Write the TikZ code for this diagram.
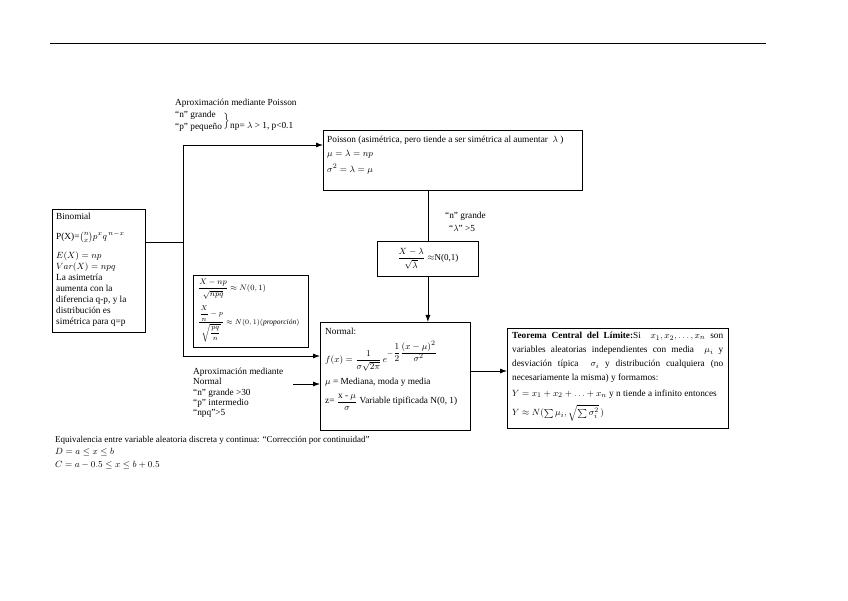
\documentclass[tikz,border=0pt]{standalone}
\usepackage{fontspec}
\setmainfont{Liberation Serif}
\usepackage{amsmath}
\usetikzlibrary{arrows.meta,calc}
\begin{document}
\begin{tikzpicture}[x=1pt,y=-1pt,
  box/.style={draw,line width=0.8pt,inner sep=0pt,anchor=north west},
  txt/.style={inner sep=0pt,anchor=west,align=left,font=\fontsize{9.3}{11}\selectfont},
  arr/.style={-{Latex[length=7pt,width=5pt]},line width=0.8pt},
  conn/.style={line width=0.8pt}]
\useasboundingbox[fill=white] (0,0) rectangle (848,601);
% top rule
\coordinate (r1) at (50,44);
\coordinate (r2) at (766,44);
\draw[line width=1pt] (r1) -- (r2);
% boxes
\node[box,minimum width=93pt,minimum height=123pt] (binom) at (52,209) {};
\node[box,minimum width=259pt,minimum height=60pt] (poisson) at (323,130) {};
\node[box,minimum width=101pt,minimum height=35pt] (lam) at (377,241) {};
\node[box,minimum width=115pt,minimum height=72pt] (fbox) at (193,275) {};
\node[box,minimum width=150pt,minimum height=108pt] (normal) at (320,322) {};
\node[box,minimum width=221pt,minimum height=100pt] (tcl) at (507,328) {};
% connectors
\coordinate (jb) at (183,242);
\coordinate (jt) at (183,145);
\coordinate (jn) at (183,356);
\draw[conn] (binom.east |- jb) -- (jb);
\draw[arr] (jn) -- (jt) -- (jt -| poisson.west);
\draw[arr] (jt) -- (jn) -- (jn -| normal.west);
\draw[conn] (lam.north |- poisson.south) -- (lam.north);
\draw[arr] (lam.south) -- (lam.south |- normal.north);
\coordinate (jr) at (470,371);
\draw[arr] (jr -| normal.east) -- (jr -| tcl.west);
\coordinate (an) at (293,384);
\draw[arr] (an) -- (an -| normal.west);
% binomial
\node[txt] (bt1) at (56,216) {Binomial};
\node[txt] (bt2) at (56,237) {P(X)=$\binom{n}{x}p^{x}q^{\,n-x}$};
\node[txt,anchor=north west] (bt3) at (56,252) {$E(X)=np$\\$Var(X)=npq$\\La asimetría\\aumenta con la\\diferencia q-p, y la\\distribución es\\simétrica para q=p};
% Poisson label
\node[txt] (pl1) at (175,103) {Aproximación mediante Poisson};
\node[txt] (pl2) at (175,115) {“n” grande};
\node[txt] (pl3) at (175,127) {“p” pequeño};
\node[txt] (br) at (222,121) {$\left.\rule{0pt}{10pt}\right\}$};
\node[txt] (pl4) at (230,126) {np= $\lambda$ > 1, p<0.1};
% Poisson box
\node[txt] (pb1) at (327,140) {Poisson (asimétrica, pero tiende a ser simétrica al aumentar \ $\lambda$ )};
\node[txt] (pb2) at (327,154) {$\mu=\lambda=np$};
\node[txt] (pb3) at (327,169) {$\sigma^{2}=\lambda=\mu$};
% labels
\node[txt] (ng) at (445,216) {“n” grande};
\node[txt] (lg) at (449,228) {“$\lambda$” >5};
% lambda box
\node[inner sep=0pt,font=\fontsize{9}{11}\selectfont] (lamt) at (lam.center) {$\dfrac{X-\lambda}{\sqrt{\lambda}}\approx$N(0,1)};
% formula box
\node[txt,font=\fontsize{8}{10}\selectfont] (f1) at (198,289) {$\dfrac{X-np}{\sqrt{npq}}\approx N(0,1)$};
\node[txt,font=\fontsize{7.5}{10}\selectfont] (f2) at (198,324) {$\dfrac{\dfrac{X}{n}-p}{\sqrt{\dfrac{pq}{n}}}\approx N(0,1)(\textit{proporción})$};
% normal box
\node[txt] (n1) at (325,331) {Normal:};
\node[txt] (n2) at (325,356) {$f(x)=\dfrac{1}{\sigma\sqrt{2\pi}}\,e^{-\dfrac{1}{2}\dfrac{(x-\mu)^2}{\sigma^2}}$};
\node[txt] (n3) at (325,382) {$\mu$ = Mediana, moda y media};
\node[txt] (n4) at (325,402) {z= $\dfrac{\text{x - }\mu}{\sigma}$ Variable tipificada N(0, 1)};
% approx normal
\node[txt,anchor=north west,font=\fontsize{9.3}{10.2}\selectfont] (an1) at (193,368) {Aproximación mediante\\Normal\\“n” grande >30\\“p” intermedio\\“npq”>5};
% TCL
\node[txt,anchor=north west,text width=211pt,align=justify,font=\fontsize{9.3}{14}\selectfont] (t1) at (512,332) {\textbf{Teorema Central del Límite:}Si \ $x_1,x_2,\ldots,x_n$ son\linebreak variables aleatorias independientes con media \ $\mu_i$ y\linebreak desviación típica \ $\sigma_i$ y distribución cualquiera (no\linebreak necesariamente la misma) y formamos:};
\node[txt] (t2) at (512,394) {$Y=x_1+x_2+\ldots+x_n$ y n tiende a infinito entonces};
\node[txt] (t3) at (512,413) {$Y\approx N(\sum\mu_i,\sqrt{\sum\sigma_i^2}\,)$};
% bottom
\node[txt,font=\fontsize{9}{11}\selectfont] (b1) at (55,440) {Equivalencia entre variable aleatoria discreta y continua: “Corrección por continuidad”};
\node[txt,font=\fontsize{9}{11}\selectfont] (b2) at (55,452) {$D=a\le x\le b$};
\node[txt,font=\fontsize{9}{11}\selectfont] (b3) at (55,465) {$C=a-0.5\le x\le b+0.5$};
\end{tikzpicture}
\end{document}
